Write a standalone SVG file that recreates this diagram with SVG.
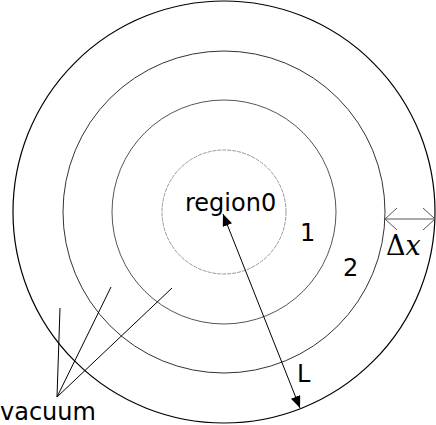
<svg xmlns="http://www.w3.org/2000/svg" width="436" height="425" viewBox="0 0 436 425">
<style>
  .lbl { font-family: "DejaVu Sans", sans-serif; font-size: 24px; fill: #000; }
  .ring { fill: none; }
  .ln { stroke: #000; stroke-width: 1; fill: none; }
</style>
<defs>
  <marker id="tri" viewBox="0 0 12 10" refX="12" refY="5" markerWidth="12" markerHeight="10" markerUnits="userSpaceOnUse" orient="auto-start-reverse">
    <path d="M0,0 L12,5 L0,10 Z" fill="#000"/>
  </marker>
  <marker id="vee" viewBox="0 0 12 22" refX="12" refY="11" markerWidth="12" markerHeight="22" markerUnits="userSpaceOnUse" orient="auto-start-reverse">
    <path d="M0,0 L12,11 L0,22" fill="none" stroke="#555" stroke-width="1"/>
  </marker>
</defs>
<rect width="436" height="425" fill="#fff"/>
<g id="ring-outer"><circle class="ring" cx="224" cy="212" r="211" stroke="#000" stroke-width="1.2" fill="#fdfdfd"/></g>
<g id="ring-2"><circle class="ring" cx="224" cy="212" r="161" stroke="#333" stroke-width="1"/></g>
<g id="ring-1"><circle class="ring" cx="224" cy="212" r="112" stroke="#555" stroke-width="1"/></g>
<g id="region0"><circle class="ring" cx="224" cy="212" r="62" stroke="#999" stroke-width="1" stroke-dasharray="4,1"/>
  <text class="lbl" x="185" y="211">region0</text></g>
<g id="label-1"><text class="lbl" x="300" y="241">1</text></g>
<g id="label-2"><text class="lbl" x="343" y="276">2</text></g>
<g id="label-dx"><text x="386" y="255" font-family="DejaVu Serif, serif" font-size="27px">Δ<tspan font-style="italic">x</tspan></text></g>
<g id="label-L"><text class="lbl" x="297" y="382">L</text></g>
<g id="label-vacuum"><text class="lbl" x="0" y="420">vacuum</text></g>
<g id="connectors">
  <line class="ln" x1="223" y1="214" x2="300" y2="408" marker-start="url(#tri)" marker-end="url(#tri)"/>
  <line x1="385" y1="219" x2="435" y2="219" stroke="#555" stroke-width="1" marker-start="url(#vee)" marker-end="url(#vee)"/>
  <line class="ln" x1="57" y1="397" x2="60" y2="308"/>
  <line class="ln" x1="57" y1="397" x2="111" y2="287"/>
  <line class="ln" x1="57" y1="397" x2="172" y2="288"/>
</g>
</svg>
